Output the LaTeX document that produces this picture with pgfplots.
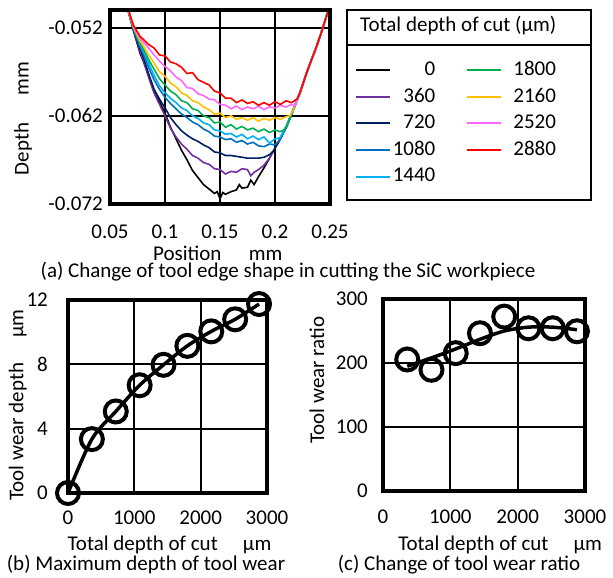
\documentclass[border=0pt]{standalone}
\usepackage{pgfplots}
\pgfplotsset{compat=1.18}
\usepackage{fontspec}
\setmainfont{Carlito}

\definecolor{c360}{HTML}{7030A0}
\definecolor{c720}{HTML}{002060}
\definecolor{c1080}{HTML}{0070C0}
\definecolor{c1440}{HTML}{00B0F0}
\definecolor{c1800}{HTML}{00B050}
\definecolor{c2160}{HTML}{FFC000}
\definecolor{c2520}{HTML}{FF66FF}
\definecolor{c2880}{HTML}{FF0000}

\pgfplotsset{
  panel/.style={
    scale only axis,
    enlargelimits=false,
    scaled x ticks=false, scaled y ticks=false,
    grid=major,
    major grid style={black, line width=2bp},
    axis line style={draw=none},
    major tick length=0pt,
    tick label style={font=\fontsize{21bp}{25bp}\selectfont},
    label style={font=\fontsize{21bp}{25bp}\selectfont, inner sep=0pt},
    xticklabel style={yshift=-14bp},
    extra description/.code={
      \draw[line width=3.2bp] (rel axis cs:0,0) rectangle (rel axis cs:1,1);},
  },
  prof/.style={line width=1.6bp, forget plot},
  lg/.style={line width=2bp},
}

\begin{document}
\fontsize{21bp}{25bp}\selectfont
\begin{tikzpicture}[x=1bp,y=1bp]
\path[use as bounding box] (0,0) rectangle (613,-578);

% (a) tool edge profiles
\begin{axis}[panel,
  at={(110bp,-204bp)}, anchor=south west,
  width=220bp, height=194bp,
  xmin=0.05, xmax=0.25, ymin=-0.072, ymax=-0.050,
  xtick={0.05,0.1,0.15,0.2,0.25},
  xticklabels={0.05,0.1,0.15,0.2,0.25},
  ytick={-0.072,-0.062,-0.052},
  yticklabels={-0.072,-0.062,-0.052},
  xlabel={Position\hspace{1.3em}mm},
  ylabel={Depth\hspace{1.3em}mm},
  xlabel style={at={(axis description cs:0.49,-0.255)}, anchor=center},
  ylabel style={at={(axis description cs:-0.395,0.44)}, anchor=center},
  legend columns=2,
  legend cell align=right,
  legend image code/.code={\draw[#1] (0bp,0bp) -- (34bp,0bp);},
  legend style={at={(axis description cs:1.114,0.745)}, anchor=north west,
    draw=none, fill=none, inner sep=0pt,
    nodes={inner sep=1.5bp, font=\fontsize{21bp}{25bp}\selectfont},
    row sep=6.5bp,
    /tikz/every even column/.append style={column sep=29bp}},
]
\addplot[prof, black] coordinates {
(0.0650,-0.0494) (0.0712,-0.0523) (0.0773,-0.0549) (0.0800,-0.0557) (0.0850,-0.0574)
(0.0900,-0.0590) (0.0950,-0.0604) (0.1000,-0.0617) (0.1050,-0.0633) (0.1100,-0.0646)
(0.1150,-0.0659) (0.1200,-0.0670) (0.1250,-0.0682) (0.1300,-0.0690) (0.1350,-0.0698)
(0.1400,-0.0703) (0.1450,-0.0708) (0.1475,-0.0706) (0.1500,-0.0714) (0.1525,-0.0707)
(0.1550,-0.0709) (0.1600,-0.0706) (0.1650,-0.0704) (0.1675,-0.0698) (0.1700,-0.0702)
(0.1750,-0.0701) (0.1780,-0.0693) (0.1810,-0.0698) (0.1850,-0.0689) (0.1900,-0.0679)
(0.1950,-0.0668) (0.1985,-0.0660) (0.2045,-0.0647) (0.2106,-0.0632) (0.2167,-0.0613)
(0.2227,-0.0594) (0.2288,-0.0571) (0.2330,-0.0557) (0.2379,-0.0541) (0.2430,-0.0522)
(0.2485,-0.0500) (0.2500,-0.0494)
};
\addplot[prof, c360] coordinates {
(0.0650,-0.0494) (0.0712,-0.0522) (0.0773,-0.0547) (0.0800,-0.0556) (0.0850,-0.0576)
(0.0900,-0.0594) (0.0950,-0.0607) (0.1000,-0.0620) (0.1050,-0.0634) (0.1100,-0.0644)
(0.1150,-0.0652) (0.1200,-0.0658) (0.1250,-0.0665) (0.1300,-0.0668) (0.1350,-0.0673)
(0.1400,-0.0675) (0.1450,-0.0680) (0.1500,-0.0681) (0.1550,-0.0686) (0.1600,-0.0683)
(0.1650,-0.0684) (0.1700,-0.0680) (0.1750,-0.0681) (0.1780,-0.0688) (0.1810,-0.0684)
(0.1850,-0.0681) (0.1900,-0.0676) (0.1950,-0.0668) (0.1985,-0.0660) (0.2045,-0.0647)
(0.2106,-0.0631) (0.2167,-0.0612) (0.2227,-0.0594) (0.2288,-0.0571) (0.2330,-0.0557)
(0.2379,-0.0541) (0.2430,-0.0522) (0.2485,-0.0500) (0.2500,-0.0494)
};
\addplot[prof, c720] coordinates {
(0.0650,-0.0494) (0.0712,-0.0521) (0.0773,-0.0544) (0.0800,-0.0552) (0.0850,-0.0572)
(0.0900,-0.0590) (0.0950,-0.0601) (0.1000,-0.0611) (0.1050,-0.0622) (0.1100,-0.0630)
(0.1150,-0.0637) (0.1200,-0.0642) (0.1250,-0.0646) (0.1300,-0.0649) (0.1350,-0.0653)
(0.1400,-0.0656) (0.1450,-0.0661) (0.1500,-0.0662) (0.1550,-0.0665) (0.1600,-0.0665)
(0.1650,-0.0666) (0.1700,-0.0667) (0.1750,-0.0668) (0.1800,-0.0668) (0.1850,-0.0668)
(0.1900,-0.0667) (0.1950,-0.0664) (0.1985,-0.0660) (0.2045,-0.0646) (0.2106,-0.0632)
(0.2167,-0.0613) (0.2227,-0.0593) (0.2288,-0.0571) (0.2330,-0.0557) (0.2379,-0.0541)
(0.2430,-0.0522) (0.2485,-0.0500) (0.2500,-0.0494)
};
\addplot[prof, c1080] coordinates {
(0.0650,-0.0494) (0.0712,-0.0521) (0.0773,-0.0541) (0.0800,-0.0549) (0.0850,-0.0565)
(0.0900,-0.0579) (0.0950,-0.0590) (0.1000,-0.0599) (0.1050,-0.0606) (0.1100,-0.0612)
(0.1150,-0.0618) (0.1200,-0.0622) (0.1250,-0.0627) (0.1300,-0.0630) (0.1350,-0.0635)
(0.1400,-0.0638) (0.1450,-0.0643) (0.1500,-0.0644) (0.1550,-0.0647) (0.1600,-0.0646)
(0.1650,-0.0650) (0.1700,-0.0648) (0.1750,-0.0652) (0.1800,-0.0650) (0.1850,-0.0654)
(0.1900,-0.0655) (0.1950,-0.0652) (0.2000,-0.0653) (0.2045,-0.0647) (0.2106,-0.0632)
(0.2167,-0.0614) (0.2227,-0.0594) (0.2288,-0.0572) (0.2330,-0.0557) (0.2379,-0.0541)
(0.2430,-0.0522) (0.2485,-0.0500) (0.2500,-0.0494)
};
\addplot[prof, c1440] coordinates {
(0.0650,-0.0494) (0.0712,-0.0520) (0.0773,-0.0539) (0.0800,-0.0546) (0.0850,-0.0560)
(0.0900,-0.0574) (0.0950,-0.0586) (0.1000,-0.0594) (0.1050,-0.0600) (0.1100,-0.0605)
(0.1150,-0.0611) (0.1200,-0.0614) (0.1250,-0.0620) (0.1300,-0.0623) (0.1350,-0.0628)
(0.1400,-0.0630) (0.1450,-0.0636) (0.1500,-0.0637) (0.1550,-0.0641) (0.1600,-0.0640)
(0.1650,-0.0644) (0.1700,-0.0641) (0.1750,-0.0646) (0.1800,-0.0643) (0.1850,-0.0647)
(0.1900,-0.0644) (0.1950,-0.0651) (0.2000,-0.0646) (0.2045,-0.0645) (0.2106,-0.0631)
(0.2167,-0.0613) (0.2227,-0.0594) (0.2288,-0.0571) (0.2330,-0.0556) (0.2379,-0.0541)
(0.2430,-0.0522) (0.2485,-0.0500) (0.2500,-0.0494)
};
\addplot[prof, c1800] coordinates {
(0.0650,-0.0494) (0.0712,-0.0520) (0.0773,-0.0537) (0.0800,-0.0543) (0.0850,-0.0556)
(0.0900,-0.0567) (0.0950,-0.0578) (0.1000,-0.0585) (0.1050,-0.0592) (0.1100,-0.0596)
(0.1150,-0.0603) (0.1200,-0.0605) (0.1250,-0.0612) (0.1300,-0.0614) (0.1350,-0.0620)
(0.1400,-0.0622) (0.1450,-0.0628) (0.1500,-0.0627) (0.1550,-0.0633) (0.1600,-0.0630)
(0.1650,-0.0635) (0.1700,-0.0632) (0.1750,-0.0636) (0.1800,-0.0634) (0.1850,-0.0638)
(0.1900,-0.0635) (0.1950,-0.0639) (0.2000,-0.0636) (0.2045,-0.0638) (0.2080,-0.0636)
(0.2106,-0.0632) (0.2167,-0.0613) (0.2227,-0.0594) (0.2288,-0.0571) (0.2330,-0.0557)
(0.2379,-0.0541) (0.2430,-0.0522) (0.2485,-0.0500) (0.2500,-0.0494)
};
\addplot[prof, c2160] coordinates {
(0.0650,-0.0494) (0.0712,-0.0519) (0.0773,-0.0535) (0.0800,-0.0540) (0.0850,-0.0551)
(0.0900,-0.0560) (0.0950,-0.0570) (0.1000,-0.0575) (0.1050,-0.0583) (0.1100,-0.0587)
(0.1150,-0.0594) (0.1200,-0.0597) (0.1250,-0.0603) (0.1300,-0.0605) (0.1350,-0.0610)
(0.1400,-0.0613) (0.1450,-0.0618) (0.1500,-0.0617) (0.1550,-0.0622) (0.1600,-0.0620)
(0.1650,-0.0624) (0.1700,-0.0622) (0.1750,-0.0625) (0.1800,-0.0622) (0.1850,-0.0626)
(0.1900,-0.0623) (0.1950,-0.0625) (0.2000,-0.0622) (0.2050,-0.0624) (0.2100,-0.0621)
(0.2136,-0.0620) (0.2167,-0.0613) (0.2227,-0.0594) (0.2288,-0.0571) (0.2330,-0.0557)
(0.2379,-0.0541) (0.2430,-0.0522) (0.2485,-0.0500) (0.2500,-0.0494)
};
\addplot[prof, c2520] coordinates {
(0.0650,-0.0493) (0.0712,-0.0518) (0.0773,-0.0532) (0.0800,-0.0536) (0.0850,-0.0543)
(0.0900,-0.0551) (0.0950,-0.0558) (0.1000,-0.0564) (0.1050,-0.0569) (0.1100,-0.0576)
(0.1150,-0.0580) (0.1200,-0.0588) (0.1250,-0.0589) (0.1300,-0.0595) (0.1350,-0.0597)
(0.1400,-0.0601) (0.1450,-0.0602) (0.1500,-0.0607) (0.1550,-0.0608) (0.1600,-0.0612)
(0.1650,-0.0609) (0.1700,-0.0613) (0.1750,-0.0610) (0.1800,-0.0612) (0.1850,-0.0609)
(0.1900,-0.0613) (0.1950,-0.0610) (0.2000,-0.0611) (0.2050,-0.0608) (0.2100,-0.0610)
(0.2150,-0.0607) (0.2180,-0.0609) (0.2227,-0.0594) (0.2288,-0.0571) (0.2330,-0.0557)
(0.2379,-0.0541) (0.2430,-0.0522) (0.2485,-0.0500) (0.2500,-0.0494)
};
\addplot[prof, c2880] coordinates {
(0.0650,-0.0493) (0.0712,-0.0517) (0.0773,-0.0530) (0.0800,-0.0533) (0.0850,-0.0539)
(0.0900,-0.0543) (0.0950,-0.0551) (0.1000,-0.0552) (0.1050,-0.0559) (0.1100,-0.0561)
(0.1150,-0.0565) (0.1200,-0.0572) (0.1250,-0.0571) (0.1300,-0.0579) (0.1350,-0.0582)
(0.1400,-0.0585) (0.1450,-0.0592) (0.1500,-0.0594) (0.1550,-0.0600) (0.1600,-0.0600)
(0.1650,-0.0605) (0.1700,-0.0602) (0.1750,-0.0606) (0.1800,-0.0604) (0.1850,-0.0608)
(0.1900,-0.0605) (0.1950,-0.0608) (0.2000,-0.0604) (0.2050,-0.0607) (0.2100,-0.0603)
(0.2150,-0.0605) (0.2200,-0.0601) (0.2227,-0.0594) (0.2288,-0.0571) (0.2330,-0.0557)
(0.2379,-0.0541) (0.2430,-0.0522) (0.2485,-0.0500) (0.2500,-0.0494)
};
% legend, filled column by column
\addlegendimage{lg, black}\addlegendentry{0}
\addlegendimage{lg, c1800}\addlegendentry{\hspace{10bp}1800}
\addlegendimage{lg, c360}\addlegendentry{360}
\addlegendimage{lg, c2160}\addlegendentry{\hspace{10bp}2160}
\addlegendimage{lg, c720}\addlegendentry{720}
\addlegendimage{lg, c2520}\addlegendentry{\hspace{10bp}2520}
\addlegendimage{lg, c1080}\addlegendentry{1080}
\addlegendimage{lg, c2880}\addlegendentry{\hspace{10bp}2880}
\addlegendimage{lg, c1440}\addlegendentry{1440}
\addlegendimage{empty legend}\addlegendentry{}
\end{axis}

\draw[line width=1.5bp] (347,-10) rectangle (591,-200);
\draw[line width=1.5bp] (347,-45) -- (591,-45);
\node[anchor=west, inner sep=0pt] at (360,-26) {Total depth of cut (µm)};
\node[inner sep=0pt] at (288,-272) {(a) Change of tool edge shape in cutting the SiC workpiece};

% (b) maximum depth of tool wear
\begin{axis}[panel,
  at={(68bp,-493bp)}, anchor=south west,
  width=199bp, height=193bp,
  xmin=0, xmax=3000, ymin=0, ymax=12,
  xtick={0,1000,2000,3000}, xticklabels={0,1000,2000,3000},
  ytick={0,4,8,12}, yticklabels={0,4,8,12},
  yticklabel style={xshift=-13bp},
  xticklabel style={yshift=3bp},
  xlabel={Total depth of cut\hspace{1.2em}µm},
  ylabel={Tool wear depth\hspace{1.2em}µm},
  xlabel style={at={(axis description cs:0.51,-0.27)}, anchor=center},
  ylabel style={at={(axis description cs:-0.253,0.456)}, anchor=center},
  clip=false,
]
\addplot[black, line width=3.5bp, smooth, mark=o, mark size=11bp,
  mark options={line width=4bp}] coordinates {
(0,0) (360,3.35) (720,5.07) (1080,6.7) (1440,7.97)
(1800,9.15) (2160,10.05) (2520,10.8) (2880,11.75)
};
\end{axis}
\node[inner sep=0pt] at (146,-565) {(b) Maximum depth of tool wear};

% (c) change of tool wear ratio
\begin{axis}[panel,
  at={(383bp,-491bp)}, anchor=south west,
  width=202bp, height=192bp,
  xmin=0, xmax=3000, ymin=0, ymax=300,
  xtick={0,1000,2000,3000}, xticklabels={0,1000,2000,3000},
  ytick={0,100,200,300}, yticklabels={0,100,200,300},
  yticklabel style={xshift=-8bp},
  xticklabel style={yshift=2bp},
  xlabel={Total depth of cut\hspace{1.2em}µm},
  ylabel={Tool wear ratio},
  xlabel style={at={(axis description cs:0.58,-0.28)}, anchor=center},
  ylabel style={at={(axis description cs:-0.327,0.578)}, anchor=center},
  clip=false,
]
% trend line
\addplot[black, line width=3.5bp, smooth] coordinates {
(360,195) (720,208) (1080,222) (1440,237) (1800,250) (2160,256) (2520,256) (2880,252)
};
\addplot[black, only marks, mark=o, mark size=11bp, mark options={line width=4bp}]
coordinates {
(360,205.5) (720,189.4) (1080,215.4) (1440,246.5) (1800,272.5)
(2160,254.3) (2520,254.3) (2880,249.6)
};
\end{axis}
\node[inner sep=0pt] at (459,-565) {(c) Change of tool wear ratio};
\end{tikzpicture}
\end{document}
